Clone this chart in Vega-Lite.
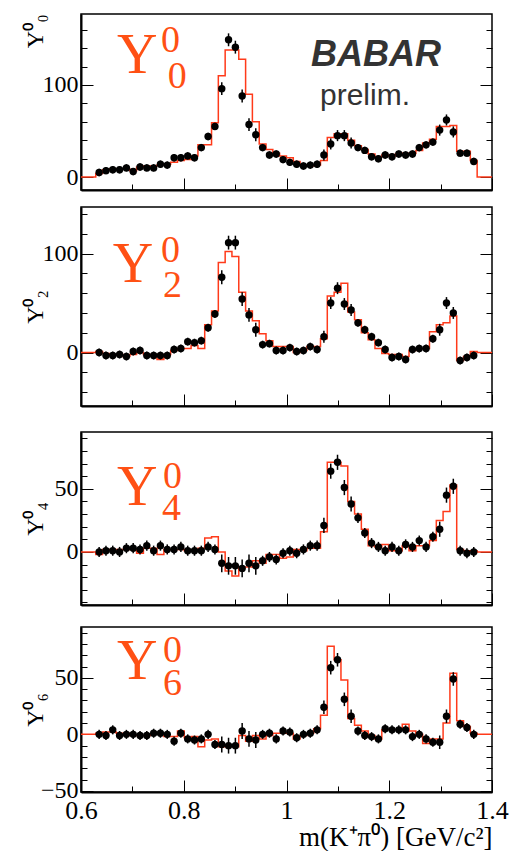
{
"$schema": "https://vega.github.io/schema/vega-lite/v6.json",
"background": "white",
"padding": {"left": 22, "top": 13, "right": 0, "bottom": 0},
"config": {"view": {"stroke": "black", "strokeWidth": 1.5}, "axis": {"grid": false, "domainColor": "black", "tickColor": "black", "labelColor": "black", "titleColor": "black", "labelFont": "Liberation Serif", "titleFont": "Liberation Serif", "titleFontWeight": "normal", "tickWidth": 1}, "axisLeft": {"labelAlign": "right"}},
"data": {"values": [
{"lo":0.6,"fa":0,"fb":0,"fc":0,"fd":0},
{"lo":0.6287,"m":0.6353,"a":5,"fa":4,"b":0,"fb":1,"c":0,"fc":-2,"d":0,"fd":1,"e":4},
{"lo":0.6420,"m":0.6486,"a":7,"fa":8,"b":-3,"fb":-1,"c":1,"fc":2,"d":-1,"fd":2,"e":4},
{"lo":0.6552,"m":0.6618,"a":8,"fa":9,"b":-3,"fb":-2,"c":1,"fc":2,"d":4,"fd":2,"e":4},
{"lo":0.6685,"m":0.6751,"a":8,"fa":9,"b":-2,"fb":-2,"c":0,"fc":2,"d":-1,"fd":1,"e":4},
{"lo":0.6817,"m":0.6884,"a":10,"fa":9,"b":-4,"fb":-4,"c":3,"fc":2,"d":0,"fd":1,"e":4},
{"lo":0.6950,"m":0.7016,"a":6,"fa":7,"b":1,"fb":-2,"c":3,"fc":2,"d":0,"fd":-1,"e":4},
{"lo":0.7082,"m":0.7149,"a":11,"fa":11,"b":2,"fb":0,"c":2,"fc":-1,"d":-1,"fd":-1,"e":4},
{"lo":0.7215,"m":0.7281,"a":10,"fa":12,"b":-3,"fb":-2,"c":5,"fc":3,"d":-1,"fd":-1,"e":4},
{"lo":0.7348,"m":0.7414,"a":10,"fa":12,"b":-3,"fb":-2,"c":1,"fc":3,"d":1,"fd":0,"e":4},
{"lo":0.7480,"m":0.7546,"a":14,"fa":13,"b":-3,"fb":-7,"c":5,"fc":-2,"d":1,"fd":0,"e":4},
{"lo":0.7613,"m":0.7679,"a":13,"fa":14,"b":-3,"fb":-2,"c":2,"fc":2,"d":0,"fd":-2,"e":4},
{"lo":0.7745,"m":0.7812,"a":21,"fa":16,"b":3,"fb":2,"c":2,"fc":2,"d":-6,"fd":-2,"e":4},
{"lo":0.7878,"m":0.7944,"a":21,"fa":18,"b":4,"fb":4,"c":4,"fc":2,"d":1,"fd":3,"e":4},
{"lo":0.8010,"m":0.8077,"a":23,"fa":19,"b":11,"fb":4,"c":1,"fc":1,"d":-4,"fd":-3,"e":4},
{"lo":0.8143,"m":0.8209,"a":21,"fa":23,"b":10,"fb":7,"c":1,"fc":1,"d":-5,"fd":-2,"e":4},
{"lo":0.8276,"m":0.8342,"a":32,"fa":35,"b":12,"fb":4,"c":1,"fc":3,"d":-4,"fd":-11,"e":4},
{"lo":0.8408,"m":0.8474,"a":44,"fa":35,"b":25,"fb":28,"c":4,"fc":11,"d":0,"fd":-5,"e":4},
{"lo":0.8541,"m":0.8607,"a":55,"fa":59,"b":39,"fb":42,"c":2,"fc":12,"d":-9,"fd":-4,"e":4},
{"lo":0.8673,"m":0.8740,"a":96,"fa":110,"b":76,"fb":91,"c":-9,"fc":0,"d":-9,"fd":-11,"e":7},
{"lo":0.8806,"m":0.8872,"a":149,"fa":138,"b":111,"fb":102,"c":-11,"fc":-15,"d":-10,"fd":-11,"e":7},
{"lo":0.8938,"m":0.9005,"a":141,"fa":138,"b":111,"fb":97,"c":-11,"fc":-19,"d":-10,"fd":-11,"e":7},
{"lo":0.9071,"m":0.9137,"a":88,"fa":128,"b":54,"fb":61,"c":-13,"fc":-12,"d":3,"fd":-1,"e":7},
{"lo":0.9204,"m":0.9270,"a":57,"fa":90,"b":38,"fb":42,"c":-9,"fc":-12,"d":-4,"fd":-6,"e":7},
{"lo":0.9336,"m":0.9402,"a":46,"fa":60,"b":23,"fb":32,"c":-11,"fc":-7,"d":-5,"fd":-1,"e":7},
{"lo":0.9469,"m":0.9535,"a":32,"fa":36,"b":8,"fb":19,"c":-7,"fc":-9,"d":0,"fd":-4,"e":4},
{"lo":0.9601,"m":0.9668,"a":24,"fa":30,"b":9,"fb":12,"c":-4,"fc":-2,"d":1,"fd":-1,"e":4},
{"lo":0.9734,"m":0.9800,"a":25,"fa":26,"b":2,"fb":6,"c":-6,"fc":-2,"d":-4,"fd":1,"e":4},
{"lo":0.9866,"m":0.9933,"a":19,"fa":23,"b":2,"fb":6,"c":-1,"fc":-5,"d":3,"fd":1,"e":4},
{"lo":0.9999,"m":1.0065,"a":16,"fa":21,"b":5,"fb":6,"c":1,"fc":-4,"d":2,"fd":1,"e":4},
{"lo":1.0132,"m":1.0198,"a":14,"fa":17,"b":1,"fb":0,"c":-1,"fc":2,"d":-3,"fd":-4,"e":4},
{"lo":1.0264,"m":1.0330,"a":12,"fa":13,"b":2,"fb":2,"c":2,"fc":1,"d":0,"fd":-1,"e":4},
{"lo":1.0397,"m":1.0463,"a":13,"fa":12,"b":6,"fb":6,"c":5,"fc":3,"d":1,"fd":1,"e":4},
{"lo":1.0529,"m":1.0596,"a":14,"fa":13,"b":3,"fb":6,"c":5,"fc":3,"d":4,"fd":5,"e":4},
{"lo":1.0662,"m":1.0728,"a":24,"fa":18,"b":16,"fb":14,"c":21,"fc":16,"d":24,"fd":17,"e":6},
{"lo":1.0794,"m":1.0861,"a":36,"fa":43,"b":50,"fb":57,"c":64,"fc":71,"d":59,"fd":78,"e":6},
{"lo":1.0927,"m":1.0993,"a":45,"fa":47,"b":65,"fb":61,"c":71,"fc":71,"d":66,"fd":66,"e":6},
{"lo":1.1060,"m":1.1126,"a":45,"fa":47,"b":49,"fb":70,"c":51,"fc":68,"d":31,"fd":48,"e":6},
{"lo":1.1192,"m":1.1258,"a":37,"fa":40,"b":43,"fb":41,"c":38,"fc":40,"d":16,"fd":14,"e":6},
{"lo":1.1325,"m":1.1391,"a":32,"fa":34,"b":30,"fb":33,"c":27,"fc":30,"d":3,"fd":8,"e":4},
{"lo":1.1457,"m":1.1524,"a":29,"fa":30,"b":23,"fb":20,"c":15,"fc":18,"d":-1,"fd":3,"e":4},
{"lo":1.1590,"m":1.1656,"a":22,"fa":25,"b":16,"fb":13,"c":7,"fc":5,"d":-2,"fd":-1,"e":4},
{"lo":1.1722,"m":1.1789,"a":20,"fa":22,"b":10,"fb":4,"c":4,"fc":4,"d":-4,"fd":-4,"e":4},
{"lo":1.1855,"m":1.1921,"a":24,"fa":24,"b":3,"fb":-1,"c":1,"fc":6,"d":5,"fd":4,"e":4},
{"lo":1.1988,"m":1.2054,"a":22,"fa":23,"b":-5,"fb":-2,"c":4,"fc":1,"d":4,"fd":4,"e":4},
{"lo":1.2120,"m":1.2186,"a":25,"fa":25,"b":-4,"fb":-2,"c":1,"fc":1,"d":4,"fd":4,"e":4},
{"lo":1.2253,"m":1.2319,"a":24,"fa":26,"b":-7,"fb":-4,"c":6,"fc":5,"d":4,"fd":9,"e":4},
{"lo":1.2385,"m":1.2452,"a":25,"fa":26,"b":3,"fb":2,"c":4,"fc":1,"d":-2,"fd":3,"e":4},
{"lo":1.2518,"m":1.2584,"a":32,"fa":29,"b":4,"fb":4,"c":9,"fc":5,"d":0,"fd":0,"e":4},
{"lo":1.2650,"m":1.2717,"a":35,"fa":37,"b":4,"fb":4,"c":4,"fc":5,"d":-4,"fd":-8,"e":4},
{"lo":1.2783,"m":1.2849,"a":38,"fa":41,"b":14,"fb":21,"c":12,"fc":9,"d":-7,"fd":-4,"e":4},
{"lo":1.2916,"m":1.2982,"a":51,"fa":55,"b":23,"fb":28,"c":18,"fc":25,"d":-7,"fd":-4,"e":6},
{"lo":1.3048,"m":1.3114,"a":62,"fa":55,"b":50,"fb":30,"c":45,"fc":32,"d":16,"fd":10,"e":6},
{"lo":1.3181,"m":1.3247,"a":49,"fa":56,"b":40,"fb":37,"c":52,"fc":53,"d":49,"fd":54,"e":6},
{"lo":1.3313,"m":1.3380,"a":26,"fa":28,"b":-8,"fb":-8,"c":1,"fc":2,"d":9,"fd":12,"e":4},
{"lo":1.3446,"m":1.3512,"a":26,"fa":28,"b":-5,"fb":-4,"c":-1,"fc":1,"d":6,"fd":7,"e":4},
{"lo":1.3578,"m":1.3645,"a":17,"fa":18,"b":-3,"fb":1,"c":0,"fc":1,"d":0,"fd":1,"e":4},
{"lo":1.3711,"fa":0,"fb":0,"fc":0,"fd":0},
{"lo":1.4,"fa":0,"fb":0,"fc":0,"fd":0}
]},
"spacing": 14,
"vconcat": [
{
"width": 411, "height": 176,
"resolve": {"axis": {"y": "independent"}},
"layer": [
{"mark": {"type": "line", "interpolate": "step-after", "color": "#ff3a1a", "strokeWidth": 1.5},
 "encoding": {
  "x": {"field": "lo", "type": "quantitative", "title": null, "scale": {"domain": [0.6, 1.4], "nice": false, "zero": false},
        "axis": {"values": [0.6,0.65,0.7,0.75,0.8,0.85,0.9,0.95,1,1.05,1.1,1.15,1.2,1.25,1.3,1.35,1.4], "labels": false, "domainWidth": 2, "tickSize": {"condition": {"test": "round(datum.value*100) % 20 == 0", "value": -12}, "value": -6}}},
  "y": {"field": "fa", "type": "quantitative", "title": "Y⁰₀", "scale": {"domain": [-14, 177], "nice": false, "zero": false},
        "axis": {"orient": "left", "values": [0,20,40,60,80,100,120,140,160], "labelExpr": "datum.value % 100 == 0 ? datum.label : ''", "labelFontSize": 24, "labelPadding": 15, "domainWidth": 2, "tickSize": {"condition": {"test": "datum.value % 100 == 0", "value": -12}, "value": -6}, "titleFontSize": 24, "titleAnchor": "end", "titlePadding": 0, "minExtent": 34, "maxExtent": 34}}
 }},
{"mark": {"type": "errorbar", "color": "black", "thickness": 1.5},
 "encoding": {"x": {"field": "m", "type": "quantitative", "title": null}, "y": {"field": "a", "type": "quantitative", "axis": null}, "yError": {"field": "e"}}},
{"mark": {"type": "point", "filled": true, "color": "black", "size": 55, "opacity": 1},
 "encoding": {"x": {"field": "m", "type": "quantitative", "title": null},
  "y": {"field": "a", "type": "quantitative", "axis": {"orient": "right", "labels": false, "title": null, "domain": false, "values": [0,20,40,60,80,100,120,140,160], "tickSize": {"condition": {"test": "datum.value % 100 == 0", "value": -12}, "value": -6}}}}},
{"data": {"values": [{}]}, "mark": {"type": "text", "font": "Liberation Serif", "fontSize": 56, "color": "#ff5014", "align": "left", "baseline": "alphabetic"},
 "encoding": {"x": {"datum": 0.670}, "y": {"datum": 113, "axis": null}, "text": {"value": "Y"}}},
{"data": {"values": [{}]}, "mark": {"type": "text", "font": "Liberation Serif", "fontSize": 38, "color": "#ff5014", "align": "left", "baseline": "alphabetic"},
 "encoding": {"x": {"datum": 0.7557}, "y": {"datum": 136, "axis": null}, "text": {"value": "0"}}},
{"data": {"values": [{}]}, "mark": {"type": "text", "font": "Liberation Serif", "fontSize": 38, "color": "#ff5014", "align": "left", "baseline": "alphabetic"},
 "encoding": {"x": {"datum": 0.7687}, "y": {"datum": 97, "axis": null}, "text": {"value": "0"}}},
{"data": {"values": [{}]}, "mark": {"type": "text", "font": "Liberation Sans", "fontSize": 36, "fontWeight": "bold", "fontStyle": "italic", "color": "#333333", "align": "left", "baseline": "alphabetic"},
 "encoding": {"x": {"datum": 1.0477}, "y": {"datum": 121, "axis": null}, "text": {"value": "BABAR"}}},
{"data": {"values": [{}]}, "mark": {"type": "text", "font": "Liberation Sans", "fontSize": 30, "color": "#333333", "align": "left", "baseline": "alphabetic"},
 "encoding": {"x": {"datum": 1.0652}, "y": {"datum": 78, "axis": null}, "text": {"value": "prelim."}}}
]
},
{
"spacing": 23,
"vconcat": [
{
"width": 411, "height": 199,
"resolve": {"axis": {"y": "independent"}},
"layer": [
{"mark": {"type": "line", "interpolate": "step-after", "color": "#ff3a1a", "strokeWidth": 1.5},
 "encoding": {
  "x": {"field": "lo", "type": "quantitative", "title": null, "scale": {"domain": [0.6, 1.4], "nice": false, "zero": false},
        "axis": {"values": [0.6,0.65,0.7,0.75,0.8,0.85,0.9,0.95,1,1.05,1.1,1.15,1.2,1.25,1.3,1.35,1.4], "labels": false, "domainWidth": 2, "tickSize": {"condition": {"test": "round(datum.value*100) % 20 == 0", "value": -12}, "value": -6}}},
  "y": {"field": "fb", "type": "quantitative", "title": "Y⁰₂", "scale": {"domain": [-54, 147], "nice": false, "zero": false},
        "axis": {"orient": "left", "values": [-40,-20,0,20,40,60,80,100,120,140], "labelExpr": "datum.value % 100 == 0 ? datum.label : ''", "labelFontSize": 24, "labelPadding": 15, "domainWidth": 2, "tickSize": {"condition": {"test": "datum.value % 100 == 0", "value": -12}, "value": -6}, "titleFontSize": 24, "titleAnchor": "middle", "titlePadding": 0, "minExtent": 34, "maxExtent": 34}}
 }},
{"mark": {"type": "errorbar", "color": "black", "thickness": 1.5},
 "encoding": {"x": {"field": "m", "type": "quantitative", "title": null}, "y": {"field": "b", "type": "quantitative", "axis": null}, "yError": {"field": "e"}}},
{"mark": {"type": "point", "filled": true, "color": "black", "size": 55, "opacity": 1},
 "encoding": {"x": {"field": "m", "type": "quantitative", "title": null},
  "y": {"field": "b", "type": "quantitative", "axis": {"orient": "right", "labels": false, "title": null, "domain": false, "values": [-40,-20,0,20,40,60,80,100,120,140], "tickSize": {"condition": {"test": "datum.value % 100 == 0", "value": -12}, "value": -6}}}}},
{"data": {"values": [{}]}, "mark": {"type": "text", "font": "Liberation Serif", "fontSize": 56, "color": "#ff5014", "align": "left", "baseline": "alphabetic"},
 "encoding": {"x": {"datum": 0.662}, "y": {"datum": 71, "axis": null}, "text": {"value": "Y"}}},
{"data": {"values": [{}]}, "mark": {"type": "text", "font": "Liberation Serif", "fontSize": 38, "color": "#ff5014", "align": "left", "baseline": "alphabetic"},
 "encoding": {"x": {"datum": 0.7557}, "y": {"datum": 91, "axis": null}, "text": {"value": "0"}}},
{"data": {"values": [{}]}, "mark": {"type": "text", "font": "Liberation Serif", "fontSize": 38, "color": "#ff5014", "align": "left", "baseline": "alphabetic"},
 "encoding": {"x": {"datum": 0.7596}, "y": {"datum": 56, "axis": null}, "text": {"value": "2"}}}
]
},
{
"spacing": 19,
"vconcat": [
{
"width": 411, "height": 173,
"resolve": {"axis": {"y": "independent"}},
"layer": [
{"mark": {"type": "line", "interpolate": "step-after", "color": "#ff3a1a", "strokeWidth": 1.5},
 "encoding": {
  "x": {"field": "lo", "type": "quantitative", "title": null, "scale": {"domain": [0.6, 1.4], "nice": false, "zero": false},
        "axis": {"values": [0.6,0.65,0.7,0.75,0.8,0.85,0.9,0.95,1,1.05,1.1,1.15,1.2,1.25,1.3,1.35,1.4], "labels": false, "domainWidth": 2, "tickSize": {"condition": {"test": "round(datum.value*100) % 20 == 0", "value": -12}, "value": -6}}},
  "y": {"field": "fc", "type": "quantitative", "title": "Y⁰₄", "scale": {"domain": [-42, 95], "nice": false, "zero": false},
        "axis": {"orient": "left", "values": [-40,-30,-20,-10,0,10,20,30,40,50,60,70,80,90], "labelExpr": "datum.value % 50 == 0 && datum.value >= 0 ? datum.label : ''", "labelFontSize": 24, "labelPadding": 15, "domainWidth": 2, "tickSize": {"condition": {"test": "datum.value % 50 == 0", "value": -12}, "value": -6}, "titleFontSize": 24, "titleAnchor": "middle", "titlePadding": 0, "minExtent": 34, "maxExtent": 34}}
 }},
{"mark": {"type": "errorbar", "color": "black", "thickness": 1.5},
 "encoding": {"x": {"field": "m", "type": "quantitative", "title": null}, "y": {"field": "c", "type": "quantitative", "axis": null}, "yError": {"field": "e"}}},
{"mark": {"type": "point", "filled": true, "color": "black", "size": 55, "opacity": 1},
 "encoding": {"x": {"field": "m", "type": "quantitative", "title": null},
  "y": {"field": "c", "type": "quantitative", "axis": {"orient": "right", "labels": false, "title": null, "domain": false, "values": [-40,-30,-20,-10,0,10,20,30,40,50,60,70,80,90], "tickSize": {"condition": {"test": "datum.value % 50 == 0", "value": -12}, "value": -6}}}}},
{"data": {"values": [{}]}, "mark": {"type": "text", "font": "Liberation Serif", "fontSize": 56, "color": "#ff5014", "align": "left", "baseline": "alphabetic"},
 "encoding": {"x": {"datum": 0.670}, "y": {"datum": 37, "axis": null}, "text": {"value": "Y"}}},
{"data": {"values": [{}]}, "mark": {"type": "text", "font": "Liberation Serif", "fontSize": 38, "color": "#ff5014", "align": "left", "baseline": "alphabetic"},
 "encoding": {"x": {"datum": 0.7596}, "y": {"datum": 51, "axis": null}, "text": {"value": "0"}}},
{"data": {"values": [{}]}, "mark": {"type": "text", "font": "Liberation Serif", "fontSize": 38, "color": "#ff5014", "align": "left", "baseline": "alphabetic"},
 "encoding": {"x": {"datum": 0.7577}, "y": {"datum": 25, "axis": null}, "text": {"value": "4"}}}
]
},
{
"width": 411, "height": 165,
"resolve": {"axis": {"y": "independent"}},
"layer": [
{"mark": {"type": "line", "interpolate": "step-after", "color": "#ff3a1a", "strokeWidth": 1.5},
 "encoding": {
  "x": {"field": "lo", "type": "quantitative", "title": "m(K⁺π⁰) [GeV/c²]", "scale": {"domain": [0.6, 1.4], "nice": false, "zero": false},
        "axis": {"values": [0.6,0.65,0.7,0.75,0.8,0.85,0.9,0.95,1,1.05,1.1,1.15,1.2,1.25,1.3,1.35,1.4], "labelExpr": "round(datum.value*100) % 20 == 0 ? format(datum.value, '~g') : ''", "labelFontSize": 26, "labelPadding": 17, "labelFlush": false, "labelOverlap": false, "domainWidth": 2, "tickSize": {"condition": {"test": "round(datum.value*100) % 20 == 0", "value": -12}, "value": -6}, "titleFontSize": 27, "titleAnchor": "end", "titlePadding": -5}},
  "y": {"field": "fd", "type": "quantitative", "title": "Y⁰₆", "scale": {"domain": [-51, 95], "nice": false, "zero": false},
        "axis": {"orient": "left", "values": [-50,-40,-30,-20,-10,0,10,20,30,40,50,60,70,80,90], "labelExpr": "datum.value % 50 == 0 ? datum.label : ''", "labelFontSize": 24, "labelPadding": 15, "domainWidth": 2, "tickSize": {"condition": {"test": "datum.value % 50 == 0", "value": -12}, "value": -6}, "titleFontSize": 24, "titleAnchor": "middle", "titlePadding": 0, "minExtent": 34, "maxExtent": 34}}
 }},
{"mark": {"type": "errorbar", "color": "black", "thickness": 1.5},
 "encoding": {"x": {"field": "m", "type": "quantitative", "title": "m(K⁺π⁰) [GeV/c²]"}, "y": {"field": "d", "type": "quantitative", "axis": null}, "yError": {"field": "e"}}},
{"mark": {"type": "point", "filled": true, "color": "black", "size": 55, "opacity": 1},
 "encoding": {"x": {"field": "m", "type": "quantitative", "title": "m(K⁺π⁰) [GeV/c²]"},
  "y": {"field": "d", "type": "quantitative", "axis": {"orient": "right", "labels": false, "title": null, "domain": false, "values": [-50,-40,-30,-20,-10,0,10,20,30,40,50,60,70,80,90], "tickSize": {"condition": {"test": "datum.value % 50 == 0", "value": -12}, "value": -6}}}}},
{"data": {"values": [{}]}, "mark": {"type": "text", "font": "Liberation Serif", "fontSize": 56, "color": "#ff5014", "align": "left", "baseline": "alphabetic"},
 "encoding": {"x": {"datum": 0.670}, "y": {"datum": 49, "axis": null}, "text": {"value": "Y"}}},
{"data": {"values": [{}]}, "mark": {"type": "text", "font": "Liberation Serif", "fontSize": 38, "color": "#ff5014", "align": "left", "baseline": "alphabetic"},
 "encoding": {"x": {"datum": 0.7596}, "y": {"datum": 64, "axis": null}, "text": {"value": "0"}}},
{"data": {"values": [{}]}, "mark": {"type": "text", "font": "Liberation Serif", "fontSize": 38, "color": "#ff5014", "align": "left", "baseline": "alphabetic"},
 "encoding": {"x": {"datum": 0.7596}, "y": {"datum": 35, "axis": null}, "text": {"value": "6"}}}
]
}
]
}
]
}
]
}
